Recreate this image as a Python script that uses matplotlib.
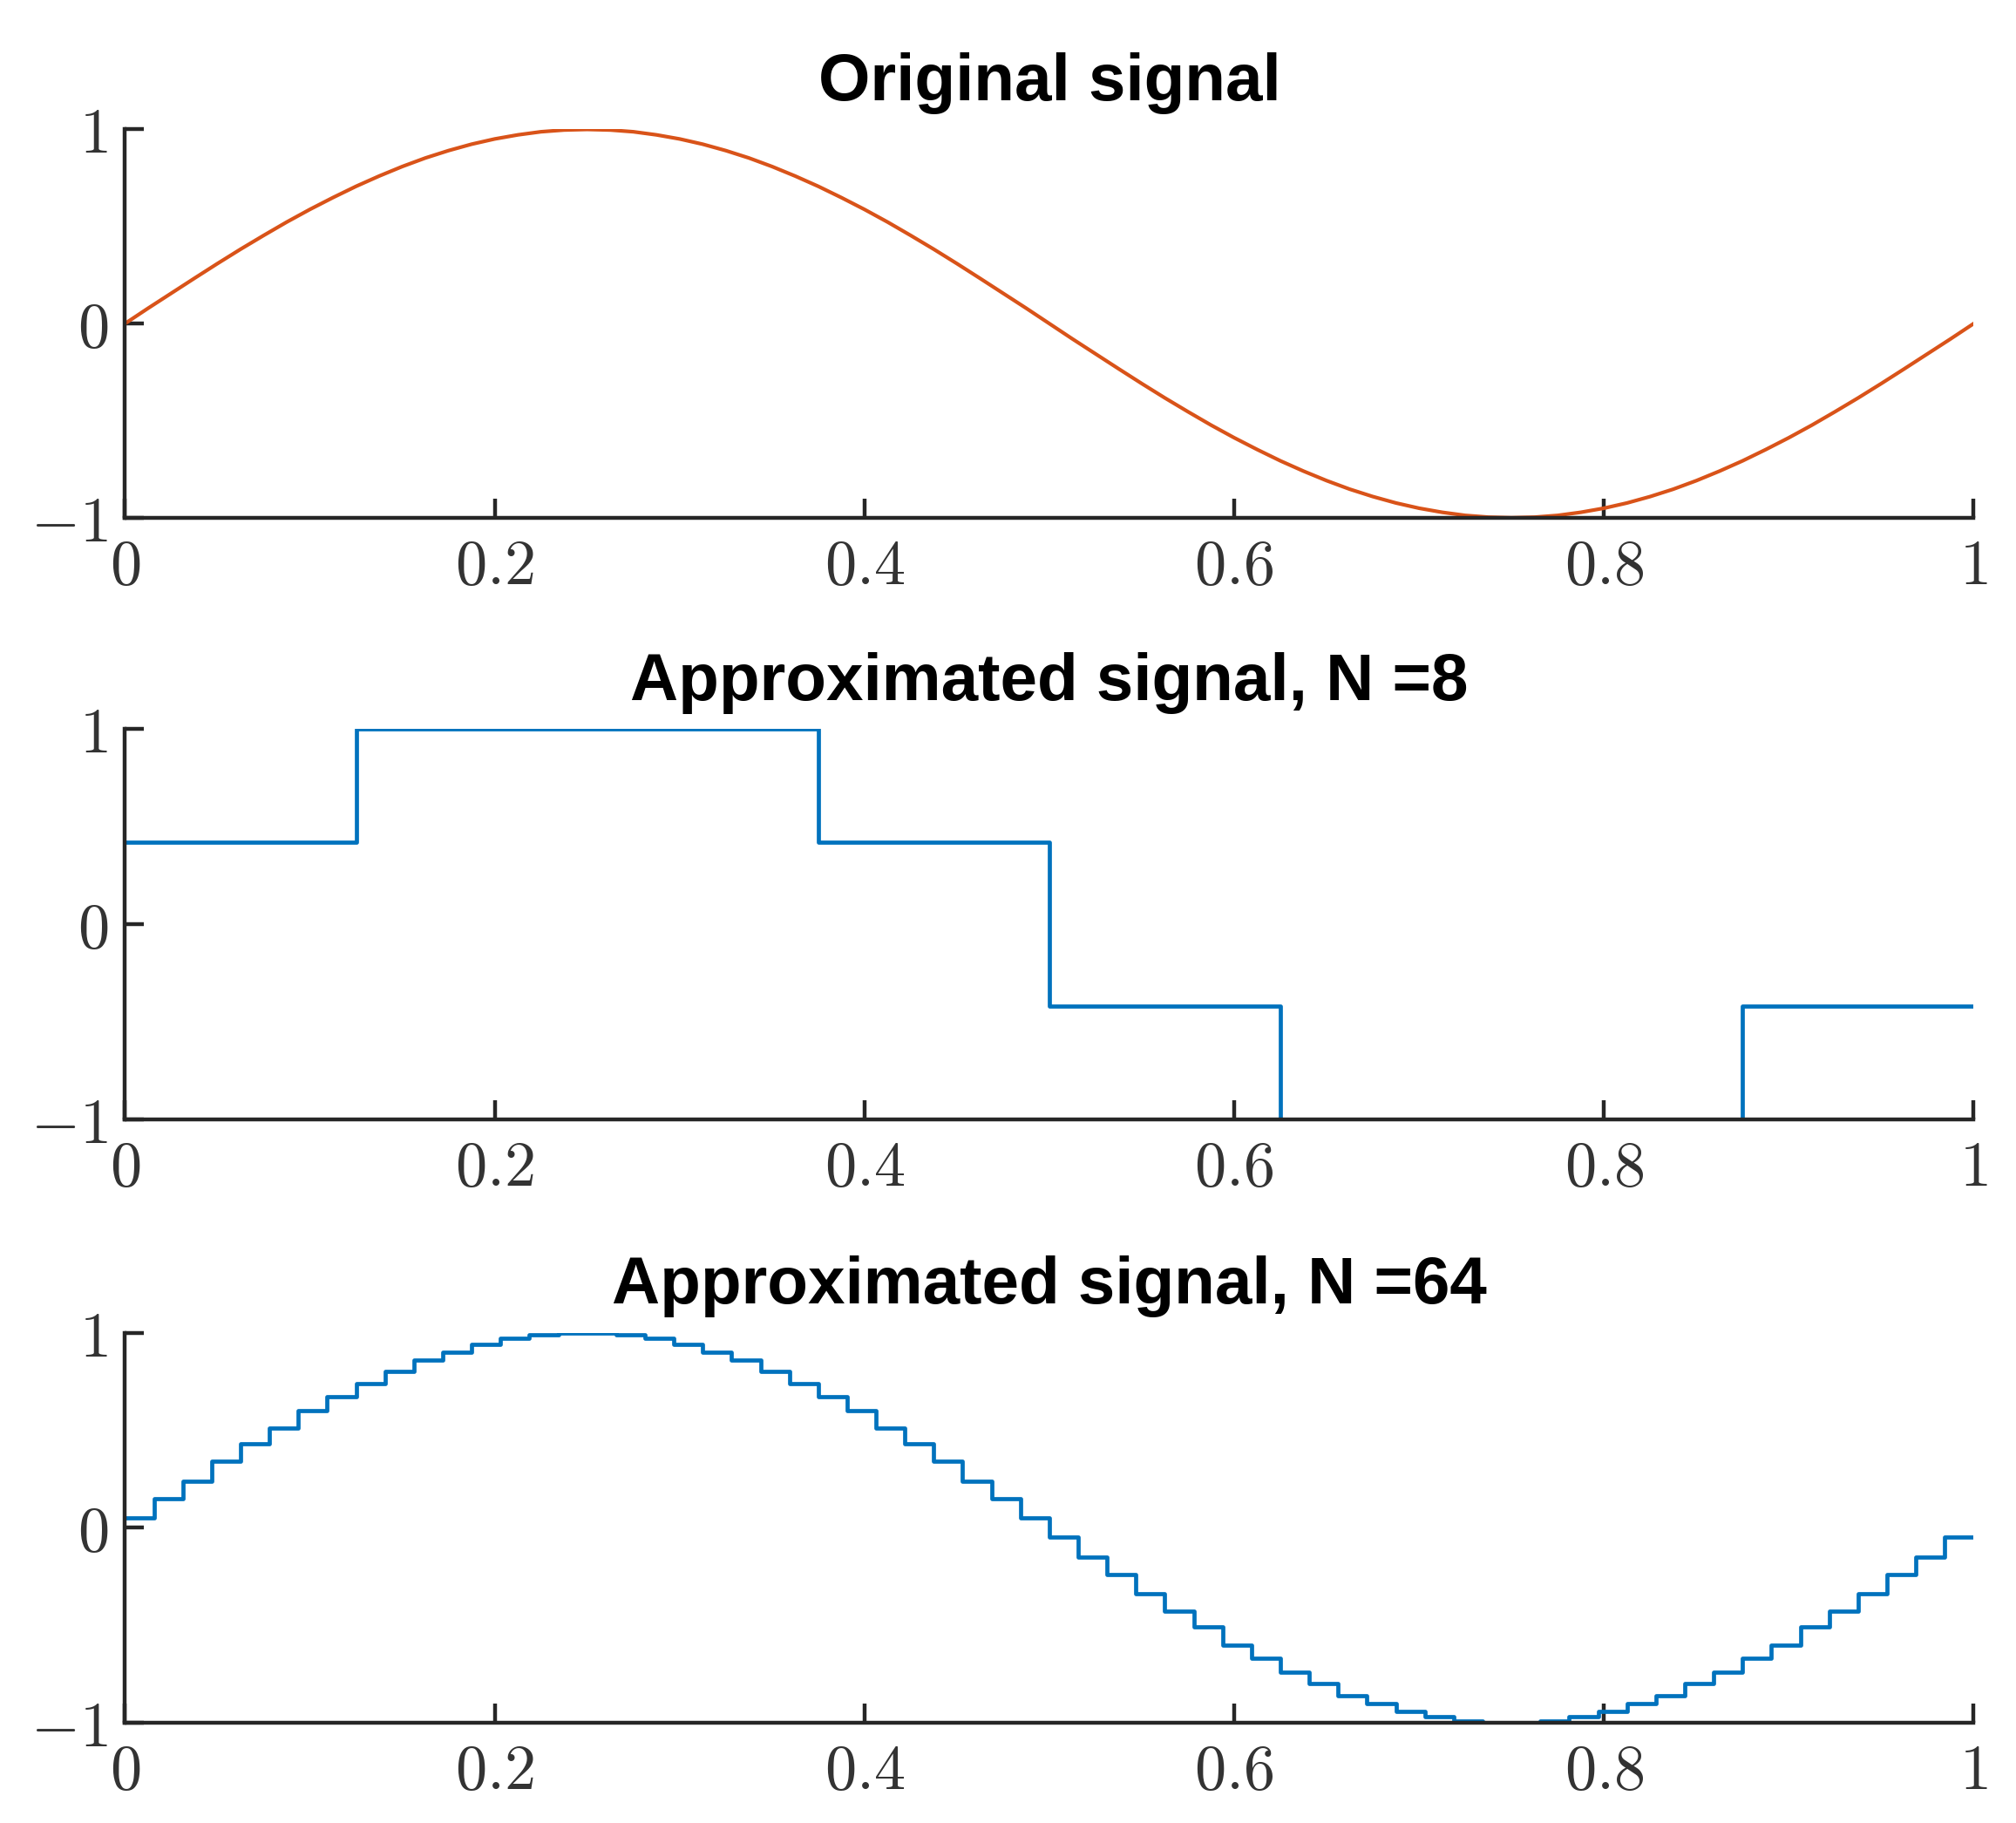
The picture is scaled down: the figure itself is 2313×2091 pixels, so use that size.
import matplotlib
matplotlib.use('Agg')
import matplotlib.pyplot as plt
import numpy as np

plt.rcParams['mathtext.fontset'] = 'cm'

orange = '#D95319'
blue = '#0072BD'
axcol = '#262626'

# original signal, read at x = 0, 0.0125, ..., 1
x_orig = np.linspace(0, 1, 81)
y_orig = [0.000, 0.079, 0.156, 0.233, 0.309, 0.383, 0.454, 0.523, 0.588, 0.649,
          0.707, 0.760, 0.809, 0.853, 0.891, 0.924, 0.951, 0.972, 0.988, 0.997,
          1.000, 0.997, 0.988, 0.972, 0.951, 0.924, 0.891, 0.853, 0.809, 0.760,
          0.707, 0.649, 0.588, 0.523, 0.454, 0.383, 0.309, 0.233, 0.156, 0.079,
          0.000, -0.079, -0.156, -0.233, -0.309, -0.383, -0.454, -0.523, -0.588, -0.649,
          -0.707, -0.760, -0.809, -0.853, -0.891, -0.924, -0.951, -0.972, -0.988, -0.997,
          -1.000, -0.997, -0.988, -0.972, -0.951, -0.924, -0.891, -0.853, -0.809, -0.760,
          -0.707, -0.649, -0.588, -0.523, -0.454, -0.383, -0.309, -0.233, -0.156, -0.079,
          0.000]

# step levels, N = 8
y_n8 = [0.42, 1.00, 1.00, 0.42, -0.42, -1.00, -1.00, -0.42]

# step levels, N = 64
y_n64 = [0.05, 0.15, 0.24, 0.34, 0.43, 0.51, 0.60, 0.67,
         0.74, 0.80, 0.86, 0.90, 0.94, 0.97, 0.99, 1.00,
         1.00, 0.99, 0.97, 0.94, 0.90, 0.86, 0.80, 0.74,
         0.67, 0.60, 0.51, 0.43, 0.34, 0.24, 0.15, 0.05,
         -0.05, -0.15, -0.24, -0.34, -0.43, -0.51, -0.60, -0.67,
         -0.74, -0.80, -0.86, -0.90, -0.94, -0.97, -0.99, -1.00,
         -1.00, -0.99, -0.97, -0.94, -0.90, -0.86, -0.80, -0.74,
         -0.67, -0.60, -0.51, -0.43, -0.34, -0.24, -0.15, -0.05]

xticks = [0, 0.2, 0.4, 0.6, 0.8, 1]
xticklabels = ['$0$', '$0.2$', '$0.4$', '$0.6$', '$0.8$', '$1$']
yticks = [-1, 0, 1]
yticklabels = ['$-1$', '$0$', '$1$']

titles = ['Original signal', 'Approximated signal, N =8', 'Approximated signal, N =64']

fig = plt.figure(figsize=(23.13, 20.91), dpi=100)
boxes = [(0.062, 0.716, 0.917, 0.213),
         (0.062, 0.386, 0.917, 0.214),
         (0.062, 0.055, 0.917, 0.214)]
axes = [fig.add_axes(b) for b in boxes]

axes[0].plot(x_orig, y_orig, color=orange, linewidth=3.0)

def steps(vals):
    n = len(vals)
    edges = np.linspace(0, 1, n + 1)
    return edges, np.append(vals, vals[-1])

e8, v8 = steps(y_n8)
axes[1].step(e8, v8, where='post', color=blue, linewidth=3.4)
e64, v64 = steps(y_n64)
axes[2].step(e64, v64, where='post', color=blue, linewidth=3.4)

for ax, t in zip(axes, titles):
    ax.set_xlim(0, 1)
    ax.set_ylim(-1, 1)
    ax.set_xticks(xticks)
    ax.set_xticklabels(xticklabels)
    ax.set_yticks(yticks)
    ax.set_yticklabels(yticklabels)
    for s in ['top', 'right']:
        ax.spines[s].set_visible(False)
    for s in ['left', 'bottom']:
        ax.spines[s].set_linewidth(3.2)
        ax.spines[s].set_color(axcol)
    ax.tick_params(direction='in', length=16, width=3.2, color=axcol,
                   labelsize=52, labelcolor='#333333')
    ax.tick_params(axis='x', pad=16)
    ax.tick_params(axis='y', pad=14)
    ax.set_title(t, fontsize=55, fontweight='bold', family='Liberation Sans',
                 pad=24)

fig.savefig('out.png', dpi=100)
